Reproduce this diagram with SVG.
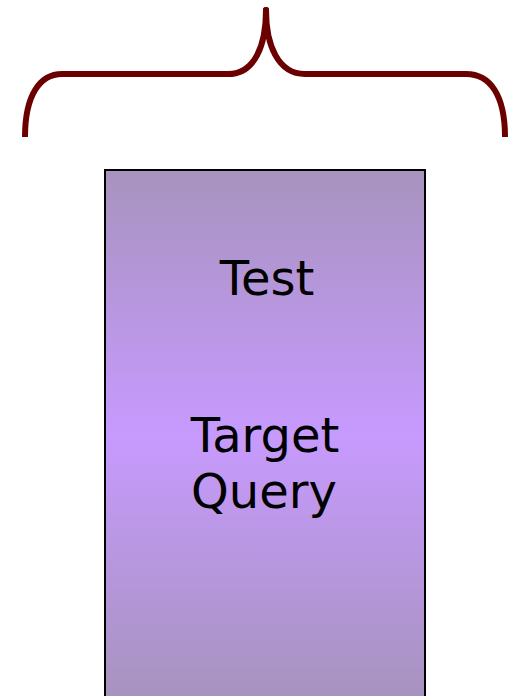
<svg xmlns="http://www.w3.org/2000/svg" width="511" height="696" viewBox="0 0 511 696">
<defs>
<linearGradient id="g" x1="0" y1="0" x2="0" y2="1">
<stop offset="0" stop-color="#A793BE"/>
<stop offset="0.5" stop-color="#C79AFE"/>
<stop offset="1" stop-color="#A793BE"/>
</linearGradient>
<style>
.lbl{font-family:"Comic Sans MS","DejaVu Sans",sans-serif;font-size:48px;fill:#000;text-anchor:middle}
</style>
</defs>
<g id="brace">
<path d="M25,137 C25,95 40,74 62,74 L228,74 C255,74 266,45 266,10 C266,45 278,74 305,74 L466,74 C490,74 505,95 505,137" fill="none" stroke="#6B0000" stroke-width="6" stroke-linecap="butt" stroke-linejoin="round"/>
<circle cx="266" cy="10" r="3" fill="#6B0000"/>
</g>
<g id="box">
<rect x="105" y="170" width="320" height="528" fill="url(#g)" stroke="#000" stroke-width="2"/>
<text class="lbl" x="267" y="295" font-size="52">Test</text>
<text class="lbl" x="265" y="452">Target</text>
<text class="lbl" x="264" y="508">Query</text>
</g>
</svg>
